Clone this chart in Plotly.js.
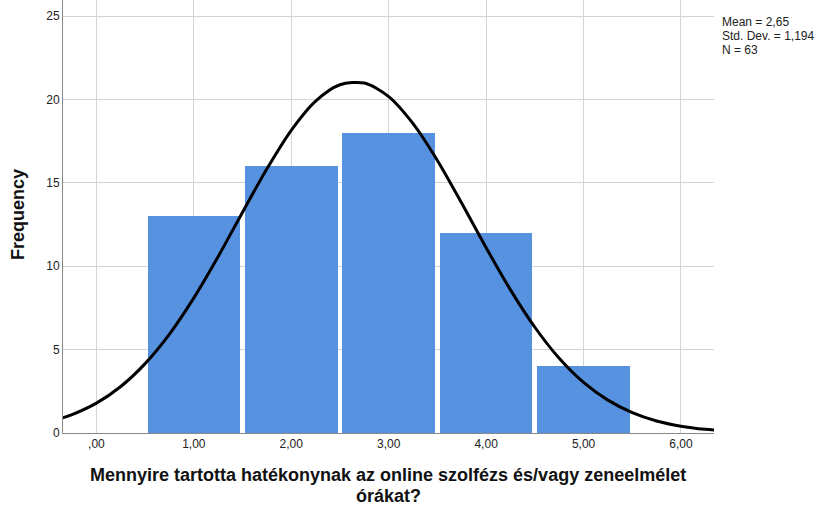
<!DOCTYPE html>
<html>
<head>
<meta charset="utf-8">
<script src="https://cdn.plot.ly/plotly-3.0.1.min.js"></script>
<style>html,body{margin:0;padding:0;background:#fff;}#chart{width:817px;height:506px;}</style>
</head>
<body>
<div id="chart"></div>
<script>
// Histogram bins (midpoints) and frequencies
const binMids = [1, 2, 3, 4, 5];
const frequencies = [13, 16, 18, 12, 4];

// Normal curve
const curveX = [-0.35, -0.25, 0, 0.25, 0.5, 0.75, 1, 1.25, 1.5, 1.75, 2, 2.25, 2.5, 2.75, 3, 3.25, 3.5, 3.75, 4, 4.25, 4.5, 4.75, 5, 5.25, 5.5, 5.75, 6, 6.25, 6.36];
const curveY = [0.9, 1.1, 1.79, 2.79, 4.16, 5.93, 8.1, 10.58, 13.24, 15.84, 18.15, 19.9, 20.88, 20.98, 20.17, 18.55, 16.34, 13.77, 11.11, 8.58, 6.34, 4.48, 3.03, 1.97, 1.22, 0.72, 0.41, 0.22, 0.17];

const xTickVals = [0, 1, 2, 3, 4, 5, 6];
const xTickText = [',00', '1,00', '2,00', '3,00', '4,00', '5,00', '6,00'];
const yTickVals = [0, 5, 10, 15, 20, 25];

const statsLines = ['Mean = 2,65', 'Std. Dev. = 1,194', 'N = 63'];
const xTitleLines = ['Mennyire tartotta hatékonynak az online szolfézs és/vagy zeneelmélet', 'órákat?'];
const yTitle = 'Frequency';

const font = 'Arial, "Liberation Sans", sans-serif';

const traces = [
  {
    type: 'bar', x: binMids, y: frequencies, width: 0.95,
    marker: {color: '#5792E1', line: {width: 0}},
    hoverinfo: 'skip'
  },
  {
    type: 'scatter', mode: 'lines', x: curveX, y: curveY,
    line: {color: '#000', width: 3, shape: 'spline', smoothing: 0.8},
    hoverinfo: 'skip'
  }
];

const plotH = 433, plotW = 651, plotL = 63;
const py = p => 1 - p / plotH;
const px = p => (p - plotL) / plotW;

const annotations = [];
const statsY = [21.5, 35.5, 49.5];
statsLines.forEach((t, i) => annotations.push({
  xref: 'paper', yref: 'paper', x: px(720), y: py(statsY[i]),
  xanchor: 'left', yanchor: 'middle', align: 'left', showarrow: false,
  text: t, font: {size: 12, color: '#222', family: font}
}));
const titleY = [475.5, 496];
xTitleLines.forEach((t, i) => annotations.push({
  xref: 'paper', yref: 'paper', x: px(388), y: py(titleY[i]),
  xanchor: 'center', yanchor: 'middle', showarrow: false,
  text: '<b>' + t + '</b>', font: {size: 18, color: '#111', family: font}
}));
annotations.push({
  xref: 'paper', yref: 'paper', x: px(18), y: py(214),
  xanchor: 'center', yanchor: 'middle', showarrow: false, textangle: -90,
  text: '<b>' + yTitle + '</b>', font: {size: 18, color: '#111', family: font}
});

const layout = {
  width: 817, height: 506,
  margin: {l: 63, r: 103, t: 0, b: 73},
  paper_bgcolor: '#fff', plot_bgcolor: '#fff',
  showlegend: false,
  bargap: 0,
  font: {family: font, color: '#222'},
  xaxis: {
    range: [-0.343, 6.339],
    tickvals: xTickVals, ticktext: xTickText,
    tickfont: {size: 12, color: '#222', family: font},
    showgrid: true, gridcolor: '#d4d4d4', gridwidth: 1,
    zeroline: false,
    showline: true, linecolor: '#888', linewidth: 1,
    ticks: '', ticklen: 0
  },
  yaxis: {
    range: [0, 25.96],
    tickvals: yTickVals,
    tickfont: {size: 12, color: '#222', family: font},
    showgrid: true, gridcolor: '#d4d4d4', gridwidth: 1,
    zeroline: false,
    showline: true, linecolor: '#888', linewidth: 1,
    ticks: '', ticklen: 0
  },
  annotations: annotations
};

Plotly.newPlot('chart', traces, layout, {displayModeBar: false, staticPlot: true});
</script>
</body>
</html>
